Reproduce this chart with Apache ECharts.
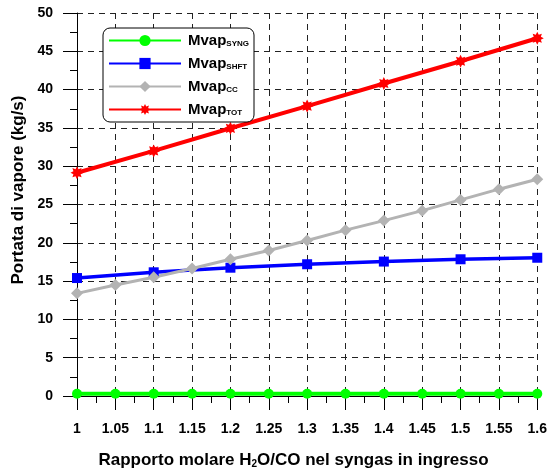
<!DOCTYPE html>
<html>
<head>
<meta charset="utf-8">
<script src="https://cdn.jsdelivr.net/npm/echarts@6/dist/echarts.min.js"></script>
<style>html,body{margin:0;padding:0;background:#fff}#c{width:550px;height:472px}</style>
</head>
<body>
<div id="c"></div>
<script>
// ---- data ----
var xFine = [1.00, 1.05, 1.10, 1.15, 1.20, 1.25, 1.30, 1.35, 1.40, 1.45, 1.50, 1.55, 1.60];
var xCoarse = [1.0, 1.1, 1.2, 1.3, 1.4, 1.5, 1.6];
var mvapSyng = [0.3, 0.3, 0.3, 0.3, 0.3, 0.3, 0.3, 0.3, 0.3, 0.3, 0.3, 0.3, 0.3];
var mvapShft = [15.4, 16.15, 16.75, 17.2, 17.55, 17.85, 18.05];
var mvapCC = [13.4, 14.5, 15.5, 16.65, 17.85, 19.0, 20.3, 21.65, 22.9, 24.2, 25.6, 27.0, 28.3];
var mvapTot = [29.15, 32.0, 34.95, 37.85, 40.8, 43.7, 46.7];
var seriesNames = ['SYNG', 'SHFT', 'CC', 'TOT'];

function pairs(xs, ys) { return xs.map(function (x, i) { return [x, ys[i]]; }); }

var FONT = '"Liberation Sans", Arial, sans-serif';
var starPath = 'path://M10,0L12.3,4.5L17.07,2.93L15.5,7.7L20,10L15.5,12.3L17.07,17.07L12.3,15.5L10,20L7.7,15.5L2.93,17.07L4.5,12.3L0,10L4.5,7.7L2.93,2.93L7.7,4.5Z';

function mkSeries(name, data, color, symbol, size, width) {
  return {
    name: name, type: 'line', data: data,
    symbol: symbol, symbolSize: size, showAllSymbol: true,
    lineStyle: { color: color, width: width },
    itemStyle: { color: color },
    emphasis: { disabled: true },
    animation: false
  };
}

var chart = echarts.init(document.getElementById('c'), null, { renderer: 'canvas' });
chart.setOption({
  animation: false,
  grid: { left: 77, right: 10, top: 13, bottom: 76, containLabel: false },
  legend: {
    orient: 'vertical', left: 103, top: 28,
    itemWidth: 72, itemHeight: 14, itemGap: 8,
    padding: [5, 5, 5, 5],
    borderColor: '#000', borderWidth: 1, borderRadius: 7,
    backgroundColor: '#fff',
    selectedMode: false,
    data: seriesNames,
    formatter: function (n) { return '{m|Mvap}{s|' + n + '}'; },
    textStyle: {
      fontFamily: FONT, color: '#000', padding: [0, 0, 0, 2],
      rich: {
        m: { fontSize: 15, fontWeight: 'bold', fontFamily: FONT, color: '#000', lineHeight: 14 },
        s: { fontSize: 8, fontWeight: 'bold', fontFamily: FONT, color: '#000', lineHeight: 14, padding: [7, 0, 0, 0] }
      }
    }
  },
  xAxis: {
    type: 'value', min: 1, max: 1.6, interval: 0.05,
    axisLine: { show: true, lineStyle: { color: '#000', width: 1 } },
    axisTick: { show: true, inside: false, length: 14, lineStyle: { color: '#000' } },
    minorTick: { show: true, splitNumber: 2, length: 7, lineStyle: { color: '#000' } },
    axisLabel: { fontFamily: FONT, fontSize: 14, fontWeight: 'bold', color: '#000', margin: 26 },
    splitLine: { show: true, lineStyle: { color: '#222', type: [6, 5], width: 1 } }
  },
  yAxis: {
    type: 'value', min: 0, max: 50, interval: 5,
    axisLine: { show: true, lineStyle: { color: '#000', width: 1 } },
    axisTick: { show: true, inside: false, length: 14, lineStyle: { color: '#000' } },
    minorTick: { show: true, splitNumber: 2, length: 7, lineStyle: { color: '#000' } },
    axisLabel: { fontFamily: FONT, fontSize: 14, fontWeight: 'bold', color: '#000', margin: 24 },
    splitLine: { show: true, lineStyle: { color: '#222', type: [6, 5], width: 1 } }
  },
  graphic: [
    {
      type: 'text', x: 18.5, y: 190, rotation: Math.PI / 2,
      style: { text: 'Portata di vapore (kg/s)', fontFamily: FONT, fontSize: 17, fontWeight: 'bold', fill: '#000', align: 'center', verticalAlign: 'middle' }
    },
    {
      type: 'text', x: 293.5, y: 460,
      style: {
        text: '{t|Rapporto molare H}{s|2}{t|O/CO nel syngas in ingresso}',
        align: 'center', verticalAlign: 'middle',
        rich: {
          t: { fontFamily: FONT, fontSize: 17, fontWeight: 'bold', fill: '#000', lineHeight: 18 },
          s: { fontFamily: FONT, fontSize: 10, fontWeight: 'bold', fill: '#000', lineHeight: 18, padding: [8, 0, 0, 0] }
        }
      }
    }
  ],
  series: [
    mkSeries('SYNG', pairs(xFine, mvapSyng), '#00ff00', 'circle', 10, 4),
    mkSeries('SHFT', pairs(xCoarse, mvapShft), '#0000ff', 'rect', 10, 3.5),
    mkSeries('CC', pairs(xFine, mvapCC), '#b3b3b3', 'diamond', 12, 3),
    mkSeries('TOT', pairs(xCoarse, mvapTot), '#ff0000', starPath, 13, 4)
  ]
});
</script>
</body>
</html>
